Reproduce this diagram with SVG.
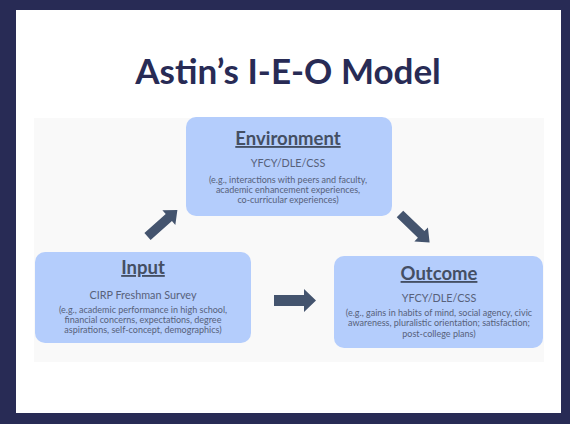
<svg xmlns="http://www.w3.org/2000/svg" width="570" height="424" viewBox="0 0 570 424">
<style>
.box{fill:#b4cdfc}
.hd{font-family:Lato,"Open Sans",sans-serif;font-weight:bold;font-size:18.5px;fill:#444f63;text-anchor:middle;text-decoration:underline}
.sub{font-family:Lato,"Open Sans",sans-serif;font-size:10.8px;fill:#57617a;text-anchor:middle}
.txt{font-family:Lato,"Open Sans",sans-serif;font-size:9px;fill:#57617a;text-anchor:middle}
.arr{fill:#44546e}
</style>
<defs>
<path id="blk" d="M0,-5.5 H30 V-11.5 L42,0 L30,11.5 V5.5 H0 Z"/>
</defs>
<rect x="0" y="0" width="570" height="424" fill="#282b55"/>
<rect x="16" y="10" width="545" height="403" fill="#ffffff"/>
<rect x="34" y="118" width="510" height="244" fill="#f9f9f9"/>
<text x="288" y="84" font-family="Lato,'Open Sans',sans-serif" font-weight="bold" font-size="35" fill="#282b55" text-anchor="middle">Astin’s I-E-O Model</text>
<g id="environment">
<rect class="box" x="186" y="117" width="206" height="99" rx="10"/>
<text class="hd" x="288" y="145">Environment</text>
<text class="sub" x="288" y="167">YFCY/DLE/CSS</text>
<text class="txt" x="288" y="183">(e.g., interactions with peers and faculty,</text>
<text class="txt" x="288" y="193">academic enhancement experiences,</text>
<text class="txt" x="288" y="203">co-curricular experiences)</text>
</g>
<g id="input">
<rect class="box" x="35" y="252" width="216" height="91" rx="10"/>
<text class="hd" x="143" y="274">Input</text>
<text class="sub" x="143" y="299">CIRP Freshman Survey</text>
<text class="txt" x="143" y="313">(e.g., academic performance in high school,</text>
<text class="txt" x="143" y="323">financial concerns, expectations, degree</text>
<text class="txt" x="143" y="333">aspirations, self-concept, demographics)</text>
</g>
<g id="outcome">
<rect class="box" x="334" y="256" width="209" height="92" rx="10"/>
<text class="hd" x="439" y="280">Outcome</text>
<text class="sub" x="439" y="302">YFCY/DLE/CSS</text>
<text class="txt" x="439" y="316">(e.g., gains in habits of mind, social agency, civic</text>
<text class="txt" x="439" y="326">awareness, pluralistic orientation; satisfaction;</text>
<text class="txt" x="439" y="337">post-college plans)</text>
</g>
<g id="connectors">
<use href="#blk" class="arr" transform="translate(147.5,236.5) rotate(-41.5) scale(0.95,0.85)"/>
<use href="#blk" class="arr" transform="translate(274,300.5)"/>
<use href="#blk" class="arr" transform="translate(400,214) rotate(44) scale(0.98,0.85)"/>
</g>
</svg>
